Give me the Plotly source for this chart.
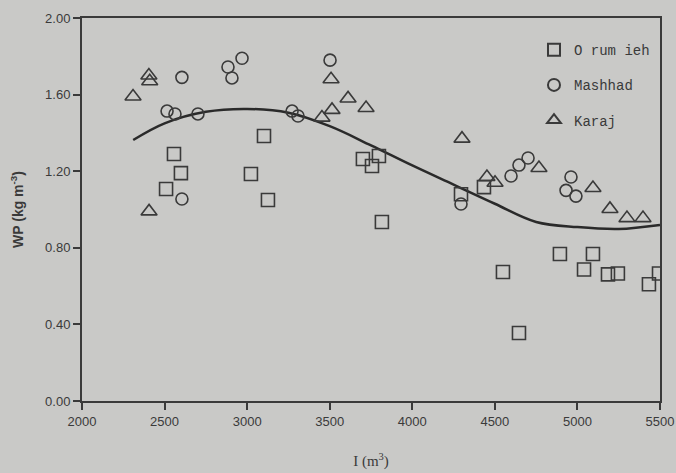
import plotly.graph_objects as go

# Orumieh (squares)
orum_x = [2509, 2557, 2599, 3023, 3102, 3126, 3701, 3756, 3798, 3816, 4295, 4434,
          4549, 4646, 4894, 5094, 5040, 5185, 5245, 5494, 5433]
orum_y = [1.107, 1.29, 1.19, 1.185, 1.384, 1.05, 1.264, 1.227, 1.279, 0.935, 1.08, 1.117,
          0.674, 0.355, 0.768, 0.768, 0.687, 0.661, 0.666, 0.666, 0.61]

# Mashhad (circles)
mash_x = [2605, 2884, 2908, 2969, 2515, 2563, 2702, 3272, 3308, 2605, 3502, 4295,
          4598, 4646, 4701, 4961, 4931, 4991]
mash_y = [1.69, 1.744, 1.687, 1.79, 1.514, 1.499, 1.499, 1.514, 1.488, 1.055, 1.78, 1.029,
          1.175, 1.232, 1.269, 1.17, 1.10, 1.07]

# Karaj (triangles)
kar_x = [2309, 2405, 2410, 2406, 3453, 3508, 3514, 3611, 3720, 4301, 4452, 4501,
         4767, 5094, 5197, 5300, 5397]
kar_y = [1.59, 1.70, 1.67, 0.99, 1.48, 1.68, 1.52, 1.58, 1.53, 1.37, 1.17, 1.14,
         1.217, 1.112, 1.003, 0.955, 0.955]

# fitted curve
fit_x = [2310, 2500, 2750, 3000, 3250, 3500, 3750, 4000, 4250, 4500, 4750, 5000, 5250, 5500]
fit_y = [1.363, 1.45, 1.51, 1.525, 1.505, 1.435, 1.335, 1.23, 1.13, 1.03, 0.935, 0.908, 0.898, 0.919]

x_ticks = [2000, 2500, 3000, 3500, 4000, 4500, 5000, 5500]
y_ticks = [0.0, 0.4, 0.8, 1.2, 1.6, 2.0]

ink = "#3a3a3a"
bg = "#c9c9c7"

fig = go.Figure()
fig.add_trace(go.Scatter(x=fit_x, y=fit_y, mode="lines", line=dict(color="#2a2a2a", width=2.5, shape="spline"),
                         showlegend=False, hoverinfo="skip"))
fig.add_trace(go.Scatter(x=orum_x, y=orum_y, mode="markers", name="O rum ieh", legendgroup="a",
                         marker=dict(symbol="square-open", size=13, color=ink, line=dict(width=1.6))))
fig.add_trace(go.Scatter(x=mash_x, y=mash_y, mode="markers", name="Mashhad", legendgroup="b",
                         marker=dict(symbol="circle-open", size=12, color=ink, line=dict(width=1.6))))
fig.add_trace(go.Scatter(x=kar_x, y=kar_y, mode="markers", name="Karaj", legendgroup="c",
                         marker=dict(symbol="triangle-up-open", size=14, color=ink, line=dict(width=1.6))))

fig.update_layout(
    width=676, height=473,
    margin=dict(l=82, r=16, t=18, b=72, autoexpand=False),
    paper_bgcolor=bg, plot_bgcolor=bg,
    font=dict(family="Liberation Sans, Arial", size=13, color=ink),
    legend=dict(x=0.782, y=0.958, xanchor="left", yanchor="top", bgcolor="rgba(0,0,0,0)",
                font=dict(family="Liberation Mono, Courier New", size=14, color=ink),
                itemsizing="constant", tracegroupgap=14),
    xaxis=dict(range=[2000, 5500], tickvals=x_ticks, ticktext=[str(v) for v in x_ticks],
               showgrid=False, zeroline=False, showline=True, linecolor=ink, linewidth=2,
               mirror=True, ticks="outside", ticklen=7, tickwidth=1.5, tickcolor=ink, automargin=False,
               title=dict(text="I (m<sup>3</sup>)", font=dict(family="Liberation Serif, Times New Roman", size=15),
                          standoff=28)),
    yaxis=dict(range=[0, 2.0], tickvals=y_ticks, ticktext=[f"{v:.2f}" for v in y_ticks],
               showgrid=False, zeroline=False, showline=True, linecolor=ink, linewidth=2,
               mirror=True, ticks="outside", ticklen=7, tickwidth=1.5, tickcolor=ink, automargin=False,
               title=dict(text="<b>WP (kg m<sup>-3</sup>)</b>", font=dict(size=14), standoff=18)),
)

fig.write_html("out.html", config={"displayModeBar": False},
               post_script="document.body.style.margin='0px';document.body.style.background='%s';" % bg)
